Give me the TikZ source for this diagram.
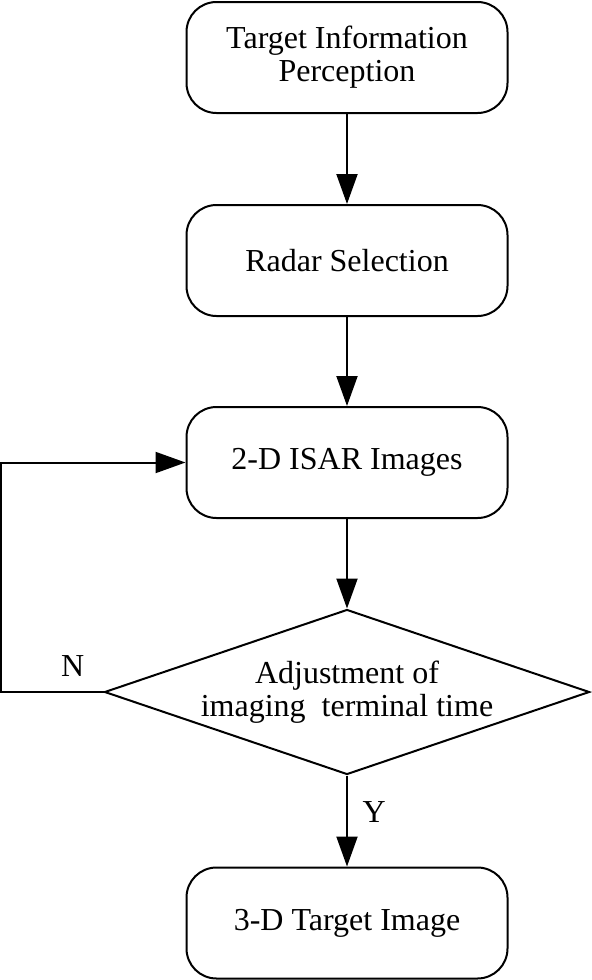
\documentclass[tikz,border=0pt]{standalone}
\usepackage{fontspec}
\setmainfont{Liberation Serif}
\usetikzlibrary{shapes,arrows,arrows.meta}

\begin{document}
\begin{tikzpicture}[x=0.5pt, y=-0.5pt,
	textbox/.style={font=\fontsize{16}{16.5}\selectfont, draw, line width=1pt, rounded corners=15pt, minimum width=160.5pt, minimum height=55.5pt, inner sep=2pt, align=center},
	decision/.style={font=\fontsize{16}{16.5}\selectfont, draw, line width=1pt, diamond, aspect=2.94, minimum width=242.5pt, minimum height=82.5pt, inner sep=0, align=center},
	lbl/.style={font=\fontsize{16}{16.5}\selectfont},
	arr/.style={-{Triangle[length=15pt, width=10.5pt]}, line width=1pt}
]
\useasboundingbox (0,0) rectangle (592,980);
%flow
\node[textbox] (v1) at (347,57.5) {Target Information\\Perception};
\node[textbox] (v2) at (347,260.5) {Radar Selection};
\node[textbox] (v3) at (347,462.5) {2-D ISAR Images};
\node[decision] (v4) at (347,692) {Adjustment of\\imaging\ \ terminal time};
\node[textbox] (v5) at (347,923) {3-D Target Image};
\draw [arr] (v1) -- (v2);
\draw [arr] (v2) -- (v3);
\draw [arr] (v3) -- (v4);
\draw [arr] (v4) -- (v5) node[lbl, pos=0.4, right=4pt] {Y};
\draw [arr] (v4.west) -- ++(-103,0) node[lbl, above, pos=0.3, yshift=4pt] {N} |- (v3.west);
\end{tikzpicture}
\end{document}
